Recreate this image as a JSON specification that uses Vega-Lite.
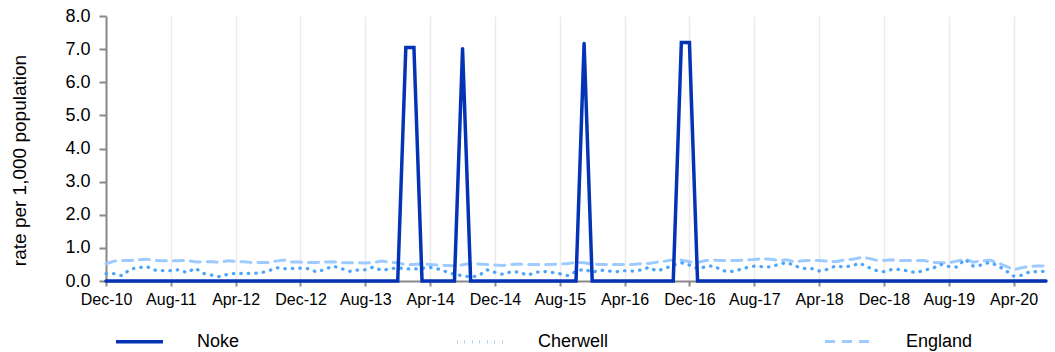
{
  "$schema": "https://vega.github.io/schema/vega-lite/v6.json",
  "autosize": "none",
  "width": 940,
  "height": 265,
  "padding": {"left": 106, "top": 16, "right": 9, "bottom": 71},
  "background": "white",
  "config": {
    "font": "Liberation Sans",
    "view": {"stroke": null}
  },
  "data": {
    "values": [
      {"m": "Dec-10", "Noke": 0, "Cherwell": 0.22, "England": 0.52},
      {"m": "Jan-11", "Noke": 0, "Cherwell": 0.22, "England": 0.60},
      {"m": "Feb-11", "Noke": 0, "Cherwell": 0.16, "England": 0.62},
      {"m": "Mar-11", "Noke": 0, "Cherwell": 0.36, "England": 0.62},
      {"m": "Apr-11", "Noke": 0, "Cherwell": 0.40, "England": 0.64},
      {"m": "May-11", "Noke": 0, "Cherwell": 0.44, "England": 0.66},
      {"m": "Jun-11", "Noke": 0, "Cherwell": 0.33, "England": 0.62},
      {"m": "Jul-11", "Noke": 0, "Cherwell": 0.31, "England": 0.61},
      {"m": "Aug-11", "Noke": 0, "Cherwell": 0.31, "England": 0.61},
      {"m": "Sep-11", "Noke": 0, "Cherwell": 0.34, "England": 0.61},
      {"m": "Oct-11", "Noke": 0, "Cherwell": 0.25, "England": 0.62},
      {"m": "Nov-11", "Noke": 0, "Cherwell": 0.39, "England": 0.58},
      {"m": "Dec-11", "Noke": 0, "Cherwell": 0.23, "England": 0.57},
      {"m": "Jan-12", "Noke": 0, "Cherwell": 0.18, "England": 0.59},
      {"m": "Feb-12", "Noke": 0, "Cherwell": 0.13, "England": 0.56},
      {"m": "Mar-12", "Noke": 0, "Cherwell": 0.20, "England": 0.61},
      {"m": "Apr-12", "Noke": 0, "Cherwell": 0.23, "England": 0.59},
      {"m": "May-12", "Noke": 0, "Cherwell": 0.23, "England": 0.58},
      {"m": "Jun-12", "Noke": 0, "Cherwell": 0.23, "England": 0.56},
      {"m": "Jul-12", "Noke": 0, "Cherwell": 0.24, "England": 0.56},
      {"m": "Aug-12", "Noke": 0, "Cherwell": 0.30, "England": 0.56},
      {"m": "Sep-12", "Noke": 0, "Cherwell": 0.40, "England": 0.60},
      {"m": "Oct-12", "Noke": 0, "Cherwell": 0.37, "England": 0.63},
      {"m": "Nov-12", "Noke": 0, "Cherwell": 0.38, "England": 0.57},
      {"m": "Dec-12", "Noke": 0, "Cherwell": 0.39, "England": 0.57},
      {"m": "Jan-13", "Noke": 0, "Cherwell": 0.37, "England": 0.56},
      {"m": "Feb-13", "Noke": 0, "Cherwell": 0.27, "England": 0.56},
      {"m": "Mar-13", "Noke": 0, "Cherwell": 0.35, "England": 0.57},
      {"m": "Apr-13", "Noke": 0, "Cherwell": 0.45, "England": 0.58},
      {"m": "May-13", "Noke": 0, "Cherwell": 0.38, "England": 0.55},
      {"m": "Jun-13", "Noke": 0, "Cherwell": 0.29, "England": 0.55},
      {"m": "Jul-13", "Noke": 0, "Cherwell": 0.33, "England": 0.55},
      {"m": "Aug-13", "Noke": 0, "Cherwell": 0.34, "England": 0.54},
      {"m": "Sep-13", "Noke": 0, "Cherwell": 0.42, "England": 0.56},
      {"m": "Oct-13", "Noke": 0, "Cherwell": 0.32, "England": 0.60},
      {"m": "Nov-13", "Noke": 0, "Cherwell": 0.36, "England": 0.57},
      {"m": "Dec-13", "Noke": 0, "Cherwell": 0.40, "England": 0.54},
      {"m": "Jan-14", "Noke": 7.05, "Cherwell": 0.37, "England": 0.50},
      {"m": "Feb-14", "Noke": 7.05, "Cherwell": 0.36, "England": 0.50},
      {"m": "Mar-14", "Noke": 0, "Cherwell": 0.38, "England": 0.52},
      {"m": "Apr-14", "Noke": 0, "Cherwell": 0.41, "England": 0.50},
      {"m": "May-14", "Noke": 0, "Cherwell": 0.36, "England": 0.48},
      {"m": "Jun-14", "Noke": 0, "Cherwell": 0.28, "England": 0.47},
      {"m": "Jul-14", "Noke": 0, "Cherwell": 0.20, "England": 0.46},
      {"m": "Aug-14", "Noke": 7.02, "Cherwell": 0.16, "England": 0.49},
      {"m": "Sep-14", "Noke": 0, "Cherwell": 0.12, "England": 0.53},
      {"m": "Oct-14", "Noke": 0, "Cherwell": 0.16, "England": 0.51},
      {"m": "Nov-14", "Noke": 0, "Cherwell": 0.34, "England": 0.50},
      {"m": "Dec-14", "Noke": 0, "Cherwell": 0.26, "England": 0.48},
      {"m": "Jan-15", "Noke": 0, "Cherwell": 0.20, "England": 0.47},
      {"m": "Feb-15", "Noke": 0, "Cherwell": 0.28, "England": 0.50},
      {"m": "Mar-15", "Noke": 0, "Cherwell": 0.27, "England": 0.51},
      {"m": "Apr-15", "Noke": 0, "Cherwell": 0.17, "England": 0.50},
      {"m": "May-15", "Noke": 0, "Cherwell": 0.26, "England": 0.50},
      {"m": "Jun-15", "Noke": 0, "Cherwell": 0.29, "England": 0.50},
      {"m": "Jul-15", "Noke": 0, "Cherwell": 0.26, "England": 0.50},
      {"m": "Aug-15", "Noke": 0, "Cherwell": 0.22, "England": 0.51},
      {"m": "Sep-15", "Noke": 0, "Cherwell": 0.16, "England": 0.53},
      {"m": "Oct-15", "Noke": 0, "Cherwell": 0.29, "England": 0.56},
      {"m": "Nov-15", "Noke": 7.17, "Cherwell": 0.36, "England": 0.55},
      {"m": "Dec-15", "Noke": 0, "Cherwell": 0.26, "England": 0.51},
      {"m": "Jan-16", "Noke": 0, "Cherwell": 0.33, "England": 0.50},
      {"m": "Feb-16", "Noke": 0, "Cherwell": 0.30, "England": 0.50},
      {"m": "Mar-16", "Noke": 0, "Cherwell": 0.28, "England": 0.50},
      {"m": "Apr-16", "Noke": 0, "Cherwell": 0.31, "England": 0.50},
      {"m": "May-16", "Noke": 0, "Cherwell": 0.30, "England": 0.50},
      {"m": "Jun-16", "Noke": 0, "Cherwell": 0.33, "England": 0.52},
      {"m": "Jul-16", "Noke": 0, "Cherwell": 0.41, "England": 0.53},
      {"m": "Aug-16", "Noke": 0, "Cherwell": 0.30, "England": 0.57},
      {"m": "Sep-16", "Noke": 0, "Cherwell": 0.38, "England": 0.60},
      {"m": "Oct-16", "Noke": 0, "Cherwell": 0.48, "England": 0.64},
      {"m": "Nov-16", "Noke": 7.2, "Cherwell": 0.55, "England": 0.63},
      {"m": "Dec-16", "Noke": 7.2, "Cherwell": 0.48, "England": 0.58},
      {"m": "Jan-17", "Noke": 0, "Cherwell": 0.37, "England": 0.56},
      {"m": "Feb-17", "Noke": 0, "Cherwell": 0.43, "England": 0.62},
      {"m": "Mar-17", "Noke": 0, "Cherwell": 0.46, "England": 0.63},
      {"m": "Apr-17", "Noke": 0, "Cherwell": 0.32, "England": 0.62},
      {"m": "May-17", "Noke": 0, "Cherwell": 0.28, "England": 0.62},
      {"m": "Jun-17", "Noke": 0, "Cherwell": 0.33, "England": 0.62},
      {"m": "Jul-17", "Noke": 0, "Cherwell": 0.40, "England": 0.64},
      {"m": "Aug-17", "Noke": 0, "Cherwell": 0.45, "England": 0.65},
      {"m": "Sep-17", "Noke": 0, "Cherwell": 0.43, "England": 0.67},
      {"m": "Oct-17", "Noke": 0, "Cherwell": 0.43, "England": 0.66},
      {"m": "Nov-17", "Noke": 0, "Cherwell": 0.50, "England": 0.62},
      {"m": "Dec-17", "Noke": 0, "Cherwell": 0.56, "England": 0.64},
      {"m": "Jan-18", "Noke": 0, "Cherwell": 0.46, "England": 0.58},
      {"m": "Feb-18", "Noke": 0, "Cherwell": 0.38, "England": 0.61},
      {"m": "Mar-18", "Noke": 0, "Cherwell": 0.38, "England": 0.62},
      {"m": "Apr-18", "Noke": 0, "Cherwell": 0.30, "England": 0.62},
      {"m": "May-18", "Noke": 0, "Cherwell": 0.35, "England": 0.60},
      {"m": "Jun-18", "Noke": 0, "Cherwell": 0.45, "England": 0.58},
      {"m": "Jul-18", "Noke": 0, "Cherwell": 0.43, "England": 0.63},
      {"m": "Aug-18", "Noke": 0, "Cherwell": 0.45, "England": 0.65},
      {"m": "Sep-18", "Noke": 0, "Cherwell": 0.54, "England": 0.70},
      {"m": "Oct-18", "Noke": 0, "Cherwell": 0.42, "England": 0.69},
      {"m": "Nov-18", "Noke": 0, "Cherwell": 0.32, "England": 0.63},
      {"m": "Dec-18", "Noke": 0, "Cherwell": 0.28, "England": 0.62},
      {"m": "Jan-19", "Noke": 0, "Cherwell": 0.35, "England": 0.64},
      {"m": "Feb-19", "Noke": 0, "Cherwell": 0.35, "England": 0.62},
      {"m": "Mar-19", "Noke": 0, "Cherwell": 0.30, "England": 0.62},
      {"m": "Apr-19", "Noke": 0, "Cherwell": 0.25, "England": 0.62},
      {"m": "May-19", "Noke": 0, "Cherwell": 0.33, "England": 0.62},
      {"m": "Jun-19", "Noke": 0, "Cherwell": 0.38, "England": 0.56},
      {"m": "Jul-19", "Noke": 0, "Cherwell": 0.50, "England": 0.55},
      {"m": "Aug-19", "Noke": 0, "Cherwell": 0.44, "England": 0.55},
      {"m": "Sep-19", "Noke": 0, "Cherwell": 0.42, "England": 0.60},
      {"m": "Oct-19", "Noke": 0, "Cherwell": 0.66, "England": 0.66},
      {"m": "Nov-19", "Noke": 0, "Cherwell": 0.45, "England": 0.57},
      {"m": "Dec-19", "Noke": 0, "Cherwell": 0.48, "England": 0.60},
      {"m": "Jan-20", "Noke": 0, "Cherwell": 0.56, "England": 0.63},
      {"m": "Feb-20", "Noke": 0, "Cherwell": 0.47, "England": 0.56},
      {"m": "Mar-20", "Noke": 0, "Cherwell": 0.32, "England": 0.45},
      {"m": "Apr-20", "Noke": 0, "Cherwell": 0.15, "England": 0.34},
      {"m": "May-20", "Noke": 0, "Cherwell": 0.17, "England": 0.40},
      {"m": "Jun-20", "Noke": 0, "Cherwell": 0.28, "England": 0.44},
      {"m": "Jul-20", "Noke": 0, "Cherwell": 0.28, "England": 0.45},
      {"m": "Aug-20", "Noke": 0, "Cherwell": 0.30, "England": 0.46}
    ]
  },
  "transform": [
    {"fold": ["England", "Cherwell", "Noke"], "as": ["series", "value"]}
  ],
  "mark": {"type": "line", "strokeCap": "round", "strokeJoin": "miter", "clip": false},
  "encoding": {
    "x": {
      "field": "m",
      "type": "ordinal",
      "sort": null,
      "scale": {"type": "point", "padding": 0},
      "axis": {
        "title": null,
        "values": ["Dec-10", "Aug-11", "Apr-12", "Dec-12", "Aug-13", "Apr-14", "Dec-14", "Aug-15", "Apr-16", "Dec-16", "Aug-17", "Apr-18", "Dec-18", "Aug-19", "Apr-20"],
        "labelAngle": 0,
        "labelFontSize": 16,
        "labelColor": "#000000",
        "labelPadding": 5,
        "labelOverlap": false,
        "labelFlush": false,
        "grid": true,
        "gridColor": "#ebebeb",
        "gridWidth": 1.5,
        "domainColor": "#898989",
        "domainWidth": 2,
        "tickColor": "#898989",
        "tickWidth": 2,
        "tickSize": 5
      }
    },
    "y": {
      "field": "value",
      "type": "quantitative",
      "scale": {"domain": [0, 8], "nice": false, "zero": true},
      "axis": {
        "title": "rate per 1,000 population",
        "titleFontSize": 19,
        "titleFontWeight": "normal",
        "titleColor": "#000000",
        "titleX": -87,
        "titleY": 144,
        "titleAngle": -90,
        "titleAlign": "center",
        "titleBaseline": "middle",
        "values": [0, 1, 2, 3, 4, 5, 6, 7, 8],
        "format": ".1f",
        "labelFontSize": 18,
        "labelColor": "#000000",
        "labelPadding": 9,
        "grid": false,
        "domainColor": "#898989",
        "domainWidth": 2,
        "tickColor": "#898989",
        "tickWidth": 2,
        "tickSize": 7
      }
    },
    "color": {
      "field": "series",
      "type": "nominal",
      "scale": {"domain": ["Noke", "Cherwell", "England"], "range": ["#0433B5", "#4EA6FA", "#9DCBFF"]},
      "legend": {
        "title": null,
        "orient": "none",
        "legendX": 8,
        "legendY": 300,
        "direction": "horizontal",
        "columns": 3,
        "gridAlign": "each",
        "columnPadding": 210,
        "symbolType": "stroke",
        "symbolSize": 2209,
        "symbolStrokeWidth": 2.5,
        "labelOffset": 32,
        "labelFontSize": 18,
        "labelColor": "#000000"
      }
    },
    "strokeDash": {
      "field": "series",
      "type": "nominal",
      "scale": {"domain": ["Noke", "Cherwell", "England"], "range": [[1, 0], [0.5, 7], [10, 7]]},
      "legend": null
    },
    "strokeWidth": {
      "field": "series",
      "type": "nominal",
      "scale": {"domain": ["Noke", "Cherwell", "England"], "range": [3.5, 3, 4]},
      "legend": null
    }
  }
}
